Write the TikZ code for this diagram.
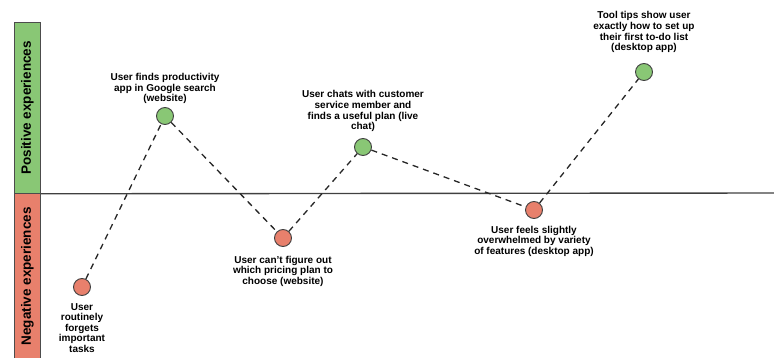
\documentclass[tikz,border=0pt]{standalone}
\usepackage{fontspec}
\setmainfont{Liberation Sans}
\usepackage[svgnames]{xcolor}
\definecolor{GoodGreen}{RGB}{137,199,117}
\definecolor{BadRed}{RGB}{232,128,108}
\usetikzlibrary{positioning}

\begin{document}
\begin{tikzpicture}[
  x=1pt,y=-1pt,
  font=\bfseries\fontsize{10}{10.6}\selectfont,
  band/.style={draw=black!70,line width=.8pt,minimum width=26pt,anchor=north west,inner sep=0pt},
  bandtext/.style={rotate=90,font=\bfseries\fontsize{13.5}{14}\selectfont},
  axis/.style={draw=black!75,line width=1.4pt},
  journey/.style={draw=black!85,line width=1.3pt,dash pattern=on 6pt off 5pt},
  point/.style={circle,draw=black!75,line width=.9pt,minimum size=17pt,inner sep=0pt},
  good/.style={point,fill=GoodGreen},
  bad/.style={point,fill=BadRed},
  note/.style={align=center,inner sep=0pt}
]
\useasboundingbox (0,0) rectangle (774,358);
\node[band,fill=GoodGreen,minimum height=171pt] (posband) at (14,22) {};
\node[band,fill=BadRed,minimum height=166pt] (negband) at (14,193) {};
\node[bandtext] at (posband.center) {Positive experiences};
\node[bandtext] at (negband.center) {Negative experiences};
\coordinate (axisend) at (774,193);
\draw[axis] (posband.south east) -- (axisend);
% journey points
\node[bad] (forgets) at (82,287) {};
\node[good] (search) at (165,116) {};
\node[bad] (pricing) at (283,238) {};
\node[good] (chat) at (363,147) {};
\node[bad] (overwhelmed) at (534,210) {};
\node[good] (tooltips) at (644,72) {};
% notes
\node[note,below=7pt of forgets] {User\\routinely\\forgets\\important\\tasks};
\node[note,above=3pt of search] {User finds productivity\\app in Google search\\(website)};
\node[note,below=9pt of pricing] {User can't figure out\\which pricing plan to\\choose (website)};
\node[note,above=6pt of chat] {User chats with customer\\service member and\\finds a useful plan (live\\chat)};
\node[note,below=7pt of overwhelmed] {User feels slightly\\overwhelmed by variety\\of features (desktop app)};
\node[note,above=10pt of tooltips] {Tool tips show user\\exactly how to set up\\their first to-do list\\(desktop app)};
\draw[journey] (forgets) -- (search) -- (pricing) -- (chat) -- (overwhelmed) -- (tooltips);
\end{tikzpicture}
\end{document}
